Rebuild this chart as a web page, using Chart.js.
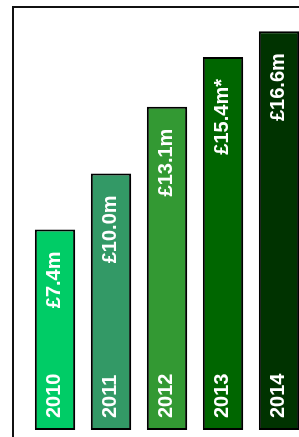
<!DOCTYPE html>
<html>
<head>
<meta charset="utf-8">
<script src="https://cdn.jsdelivr.net/npm/chart.js@4/dist/chart.umd.min.js"></script>
<style>
  html, body { margin: 0; padding: 0; background: #fff; overflow: hidden; }
  #wrap { position: relative; width: 299px; height: 437px; overflow: hidden; }
  #frame { position: absolute; left: 12px; top: 6px; width: 400px; height: 500px; border: 2px solid #111; box-sizing: border-box; }
  #myChart { position: absolute; left: 0; top: 0; }
</style>
</head>
<body>
<div id="wrap">
  <div id="frame"></div>
  <canvas id="myChart" width="310" height="437"></canvas>
</div>
<script>
const years = ['2010', '2011', '2012', '2013', '2014'];
const income = [7.4, 10.0, 13.1, 15.4, 16.6];
const notes = ['', '', '', '*', ''];
const barColors = ['#00cc66', '#339966', '#339933', '#006600', '#003300'];

// bars sit on a base a little below zero, like the original graphic
const axisMin = -1.9;
const axisMax = 18;

const shadow = {
  id: 'shadow',
  beforeDatasetsDraw(chart) {
    const ctx = chart.ctx;
    ctx.save();
    ctx.shadowColor = 'rgba(0,0,0,0.35)';
    ctx.shadowBlur = 4;
    ctx.shadowOffsetX = 3;
    ctx.shadowOffsetY = 3;
  },
  afterDatasetsDraw(chart) {
    chart.ctx.restore();
  }
};

const barText = {
  id: 'barText',
  afterDraw(chart) {
    const ctx = chart.ctx;
    const meta = chart.getDatasetMeta(0);
    ctx.save();
    ctx.fillStyle = '#fff';
    ctx.font = 'bold 20px "Liberation Sans", Arial, sans-serif';
    ctx.textBaseline = 'middle';
    meta.data.forEach((bar, i) => {
      // year at the bottom of the bar
      ctx.save();
      ctx.translate(bar.x - 1, bar.base - 12);
      ctx.rotate(-Math.PI / 2);
      ctx.textAlign = 'left';
      ctx.fillText(years[i], 0, 0);
      ctx.restore();
      // value near the top
      ctx.save();
      ctx.translate(bar.x - 1, bar.y + 22);
      ctx.rotate(-Math.PI / 2);
      ctx.textAlign = 'right';
      ctx.fillText('£' + income[i].toFixed(1) + 'm' + notes[i], 0, 0);
      ctx.restore();
    });
    ctx.restore();
  }
};

new Chart(document.getElementById('myChart'), {
  type: 'bar',
  data: {
    labels: years,
    datasets: [{
      data: income,
      base: axisMin,
      backgroundColor: barColors,
      borderColor: '#000',
      borderWidth: 2,
      borderSkipped: false,
      categoryPercentage: 1,
      barPercentage: 0.72
    }]
  },
  options: {
    responsive: false,
    animation: false,
    layout: { padding: { top: 1, bottom: 7, left: 27, right: 3 } },
    scales: {
      x: { display: false },
      y: { display: false, min: axisMin, max: axisMax }
    },
    plugins: {
      legend: { display: false },
      tooltip: { enabled: false }
    }
  },
  plugins: [shadow, barText]
});
</script>
</body>
</html>
